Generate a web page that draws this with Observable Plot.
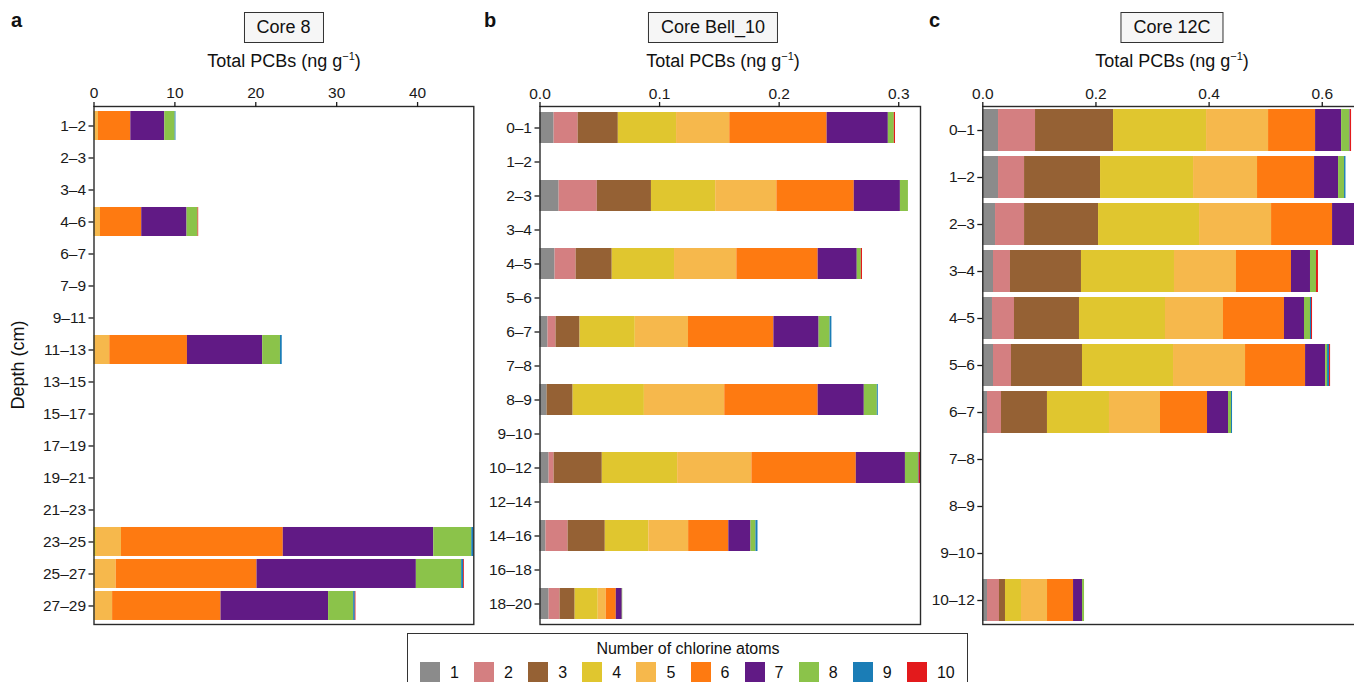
<!DOCTYPE html>
<html><head><meta charset="utf-8">
<script src="https://cdn.jsdelivr.net/npm/d3@7"></script>
<script src="https://cdn.jsdelivr.net/npm/@observablehq/plot@0.6"></script>
<style>
html,body{margin:0;padding:0;width:1354px;height:682px;overflow:hidden;background:#fff;font-family:"Liberation Sans",Arial,sans-serif;color:#111;}
#root{position:relative;width:1354px;height:682px;overflow:hidden;}
.box{position:absolute;top:12px;height:31px;border:1.3px solid #333;background:#f6f6f6;font-size:18px;line-height:29px;text-align:center;box-sizing:border-box;padding:0 12px;transform:translateX(-50%);white-space:nowrap;}
.axt{position:absolute;top:61px;font-size:18px;transform:translate(-50%,-50%);white-space:nowrap;}
.axt sup{font-size:11px;vertical-align:7px;line-height:0;}
.let{position:absolute;top:9px;font-size:20px;font-weight:bold;}
.ylab{position:absolute;left:18px;top:365px;font-size:18px;transform:translate(-50%,-50%) rotate(-90deg);white-space:nowrap;}
.legend{position:absolute;left:407px;top:633px;width:561px;height:70px;border:1.3px solid #333;box-sizing:border-box;}
.legt{position:absolute;left:280px;top:15px;font-size:16px;transform:translate(-50%,-50%);white-space:nowrap;}
.sw{position:absolute;top:28px;width:20px;height:20px;}
.swl{position:absolute;top:29px;font-size:16px;line-height:20px;}
</style></head><body>
<div id="root"></div>
<script>
const chlorineLevels = ["1","2","3","4","5","6","7","8","9","10"];
const chlorineColors = ["#8b8b8b","#d47f81","#956134","#e0c62f","#f6b84c","#fe7a11","#611a85","#8bc34a","#1b7db6","#e31a1c"];

// Core 8 (ng/g), one row per depth, columns = chlorine atoms 1..10
const core8Depths = ["1–2","2–3","3–4","4–6","6–7","7–9","9–11","11–13","13–15","15–17","17–19","19–21","21–23","23–25","25–27","27–29"];
const core8Values = [
  [0,0,0,0.05,0.5,4.0,4.2,1.28,0.1,0],
  [0,0,0,0,0,0,0,0,0,0],
  [0,0,0,0,0,0,0,0,0,0],
  [0,0,0,0.05,0.75,5.1,5.6,1.36,0,0.08],
  [0,0,0,0,0,0,0,0,0,0],
  [0,0,0,0,0,0,0,0,0,0],
  [0,0,0,0,0,0,0,0,0,0],
  [0,0,0,0.05,1.9,9.6,9.3,2.2,0.22,0],
  [0,0,0,0,0,0,0,0,0,0],
  [0,0,0,0,0,0,0,0,0,0],
  [0,0,0,0,0,0,0,0,0,0],
  [0,0,0,0,0,0,0,0,0,0],
  [0,0,0,0,0,0,0,0,0,0],
  [0,0,0,0.3,3.1,20.0,18.6,4.7,0.25,0],
  [0,0,0,0.15,2.6,17.4,19.7,5.6,0.25,0.1],
  [0,0,0,0.1,2.2,13.4,13.3,3.1,0.2,0.08]
];
const core8Ticks = [0,10,20,30,40];

// Core Bell_10
const bellDepths = ["0–1","1–2","2–3","3–4","4–5","5–6","6–7","7–8","8–9","9–10","10–12","12–14","14–16","16–18","18–20"];
const bellValues = [
  [0.0118,0.0201,0.0336,0.0487,0.0445,0.0814,0.0512,0.005,0,0.001],
  [0,0,0,0,0,0,0,0,0,0],
  [0.016,0.0319,0.0453,0.0537,0.0512,0.0647,0.0386,0.0067,0,0],
  [0,0,0,0,0,0,0,0,0,0],
  [0.0126,0.0176,0.0302,0.0521,0.0521,0.068,0.0327,0.0034,0,0.001],
  [0,0,0,0,0,0,0,0,0,0],
  [0.0067,0.0067,0.0201,0.0462,0.0445,0.0714,0.0378,0.0092,0.0015,0],
  [0,0,0,0,0,0,0,0,0,0],
  [0.0059,0,0.0218,0.0596,0.0672,0.0781,0.0386,0.0109,0.0008,0],
  [0,0,0,0,0,0,0,0,0,0],
  [0.0076,0.0042,0.0403,0.063,0.0621,0.0873,0.0411,0.0109,0.0005,0.0012],
  [0,0,0,0,0,0,0,0,0,0],
  [0.005,0.0185,0.0311,0.0364,0.0333,0.0336,0.0185,0.0042,0.0017,0],
  [0,0,0,0,0,0,0,0,0,0],
  [0.0076,0.0092,0.0126,0.0193,0.0067,0.0084,0.005,0.0004,0,0]
];
const bellTicks = [0,0.1,0.2,0.3];

// Core 12C
const c12Depths = ["0–1","1–2","2–3","3–4","4–5","5–6","6–7","7–8","8–9","9–10","10–12"];
const c12Values = [
  [0.0278,0.0654,0.1379,0.1644,0.1096,0.0831,0.046,0.0141,0.001,0.0025],
  [0.0278,0.046,0.1343,0.1644,0.1131,0.1008,0.0424,0.0106,0.0025,0],
  [0.0225,0.0513,0.1308,0.1785,0.1273,0.1078,0.045,0.012,0.002,0.001],
  [0.0189,0.03,0.1255,0.1644,0.1096,0.0972,0.0336,0.0106,0,0.0035],
  [0.0171,0.0389,0.1149,0.152,0.1025,0.1078,0.0354,0.0106,0.0018,0.0018],
  [0.0189,0.0318,0.1255,0.1609,0.1273,0.1061,0.0354,0.0035,0.0035,0.0018],
  [0.0083,0.0247,0.0813,0.1096,0.0902,0.0831,0.0371,0.0053,0.0018,0],
  [0,0,0,0,0,0,0,0,0,0],
  [0,0,0,0,0,0,0,0,0,0],
  [0,0,0,0,0,0,0,0,0,0],
  [0.0083,0.0212,0.0106,0.0283,0.046,0.046,0.0159,0.0035,0,0]
];
const c12Ticks = [0,0.2,0.4,0.6];

const panelTitles = ["Core 8","Core Bell_10","Core 12C"];
const panelLetters = ["a","b","c"];

const root = document.getElementById("root");

function rowsOf(depths, values) {
  const rows = [];
  depths.forEach((d, i) => values[i].forEach((v, j) => {
    if (v > 0) rows.push({depth: d, cl: chlorineLevels[j], value: v});
  }));
  return rows;
}

function makePanel(depths, values, ticks, fmt, svgLeft, x0, x1) {
  const rows = rowsOf(depths, values);
  const xMax = d3.max(depths.map((d, i) => d3.sum(values[i])));
  const top = 106, bottom = 624, mr = 6;
  const plot = Plot.plot({
    width: x1 - svgLeft + mr,
    height: bottom + 4,
    marginLeft: x0 - svgLeft,
    marginRight: mr,
    marginTop: top,
    marginBottom: 4,
    style: {fontFamily: "'Liberation Sans', Arial, sans-serif", fontSize: "15.5px", color: "#1a1a1a", background: "transparent", overflow: "visible"},
    x: {domain: [0, xMax]},
    y: {domain: depths, paddingInner: 0.1, paddingOuter: 0.05},
    color: {domain: chlorineLevels, range: chlorineColors},
    marks: [
      Plot.barX(rows, Plot.stackX({x: "value", y: "depth", fill: "cl", order: chlorineLevels})),
      Plot.frame({stroke: "#2a2a2a", strokeWidth: 1.4}),
      Plot.axisX({anchor: "top", ticks, tickFormat: fmt, tickSize: 5, tickPadding: 3, label: null, fontSize: 15.5, strokeWidth: 1.3}),
      Plot.axisY({anchor: "left", tickSize: 5, tickPadding: 3, label: null, fontSize: 15.5, strokeWidth: 1.3})
    ]
  });
  plot.style.position = "absolute";
  plot.style.left = svgLeft + "px";
  plot.style.top = "0px";
  root.appendChild(plot);
}

makePanel(core8Depths, core8Values, core8Ticks, d => String(d), 0, 93.5, 473.3);
makePanel(bellDepths, bellValues, bellTicks, d3.format(".1f"), 480, 539.5, 920);
makePanel(c12Depths, c12Values, c12Ticks, d3.format(".1f"), 925, 982.3, 1366);

function addDiv(cls, html, style) {
  const el = document.createElement("div");
  el.className = cls;
  el.innerHTML = html;
  Object.assign(el.style, style || {});
  root.appendChild(el);
  return el;
}

const titleCenters = [283.5, 713, 1172];
const axisCenters = [284, 723, 1172];
const letterLefts = [11, 484, 929];
panelTitles.forEach((t, i) => {
  addDiv("box", t, {left: titleCenters[i] + "px"});
  addDiv("axt", "Total PCBs (ng g<sup>−1</sup>)", {left: axisCenters[i] + "px"});
  addDiv("let", panelLetters[i], {left: letterLefts[i] + "px"});
});
addDiv("ylab", "Depth (cm)");

const legend = addDiv("legend", "");
const lt = document.createElement("div");
lt.className = "legt"; lt.textContent = "Number of chlorine atoms";
legend.appendChild(lt);
chlorineLevels.forEach((c, i) => {
  const sw = document.createElement("div");
  sw.className = "sw";
  sw.style.left = (12 + i * 54.1) + "px";
  sw.style.background = chlorineColors[i];
  legend.appendChild(sw);
  const lb = document.createElement("div");
  lb.className = "swl";
  lb.style.left = (12 + i * 54.1 + 30) + "px";
  lb.textContent = c;
  legend.appendChild(lb);
});
</script>
</body></html>
